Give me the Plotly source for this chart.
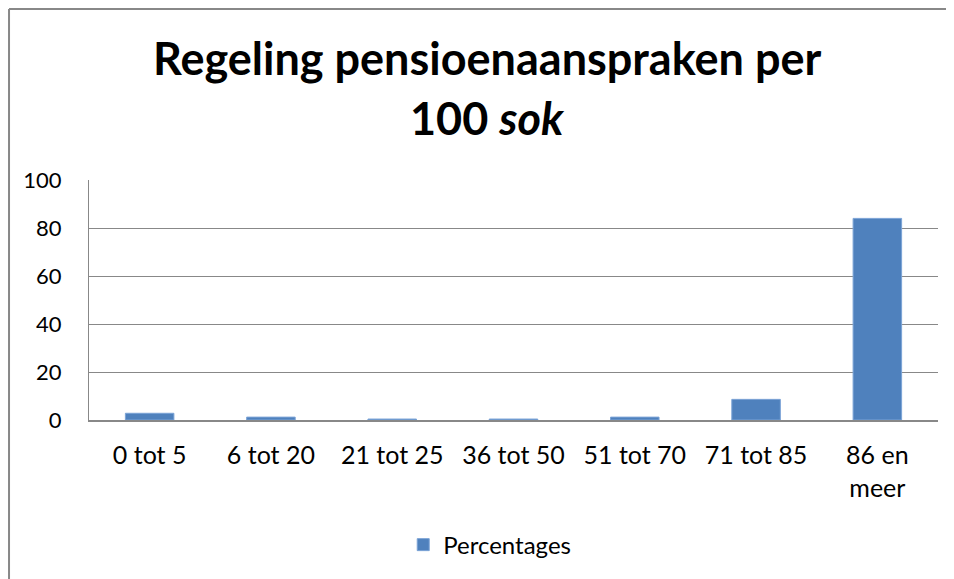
import plotly.graph_objects as go

categories = ["0 tot 5", "6 tot 20", "21 tot 25", "36 tot 50", "51 tot 70", "71 tot 85", "86 en<br>meer"]
percentages = [2.8, 1.2, 0.4, 0.4, 1.2, 8.6, 84]

grey = "#888888"

fig = go.Figure()
fig.add_trace(go.Bar(
    x=categories,
    y=percentages,
    name="Percentages",
    marker=dict(color="#4f81bd", line=dict(color="#7ba3d6", width=1))
))

# the page body has an 8px margin, so the figure is laid out 8px smaller
fig.update_layout(
    width=946,
    height=571,
    margin=dict(l=81, r=16, t=172, b=159, autoexpand=False),
    paper_bgcolor="white",
    plot_bgcolor="white",
    font=dict(family="Lato", size=24, color="black"),
    bargap=0.6,
    showlegend=True,
    legend=dict(
        orientation="h",
        x=0.472, xanchor="center",
        y=-0.521, yanchor="middle",
        font=dict(size=24)
    ),
    xaxis=dict(
        showline=True, linecolor=grey, linewidth=2,
        ticks="", tickfont=dict(size=25),
        ticklabelstandoff=12
    ),
    yaxis=dict(
        range=[0, 100], dtick=20,
        showline=True, linecolor=grey, linewidth=1,
        gridcolor=grey, gridwidth=1.3,
        ticks="", tickfont=dict(size=22),
        ticklabelstandoff=22,
        zeroline=False
    ),
    annotations=[
        dict(text="<b>Regeling pensioenaanspraken per</b>", xref="paper", yref="paper",
             x=0.4688, y=1.508, xanchor="center", yanchor="middle",
             showarrow=False, font=dict(size=45)),
        dict(text="<b>100 <i>sok</i></b>", xref="paper", yref="paper",
             x=0.4688, y=1.258, xanchor="center", yanchor="middle",
             showarrow=False, font=dict(size=45)),
    ],
    shapes=[
        dict(type="line", xref="paper", yref="paper",
             x0=-0.0942, x1=-0.0942, y0=1.7125, y1=-0.8,
             line=dict(color=grey, width=2)),
        dict(type="line", xref="paper", yref="paper",
             x0=-0.0942, x1=1.1, y0=1.7125, y1=1.7125,
             line=dict(color=grey, width=2)),
    ]
)

fig.write_html("out.html")
